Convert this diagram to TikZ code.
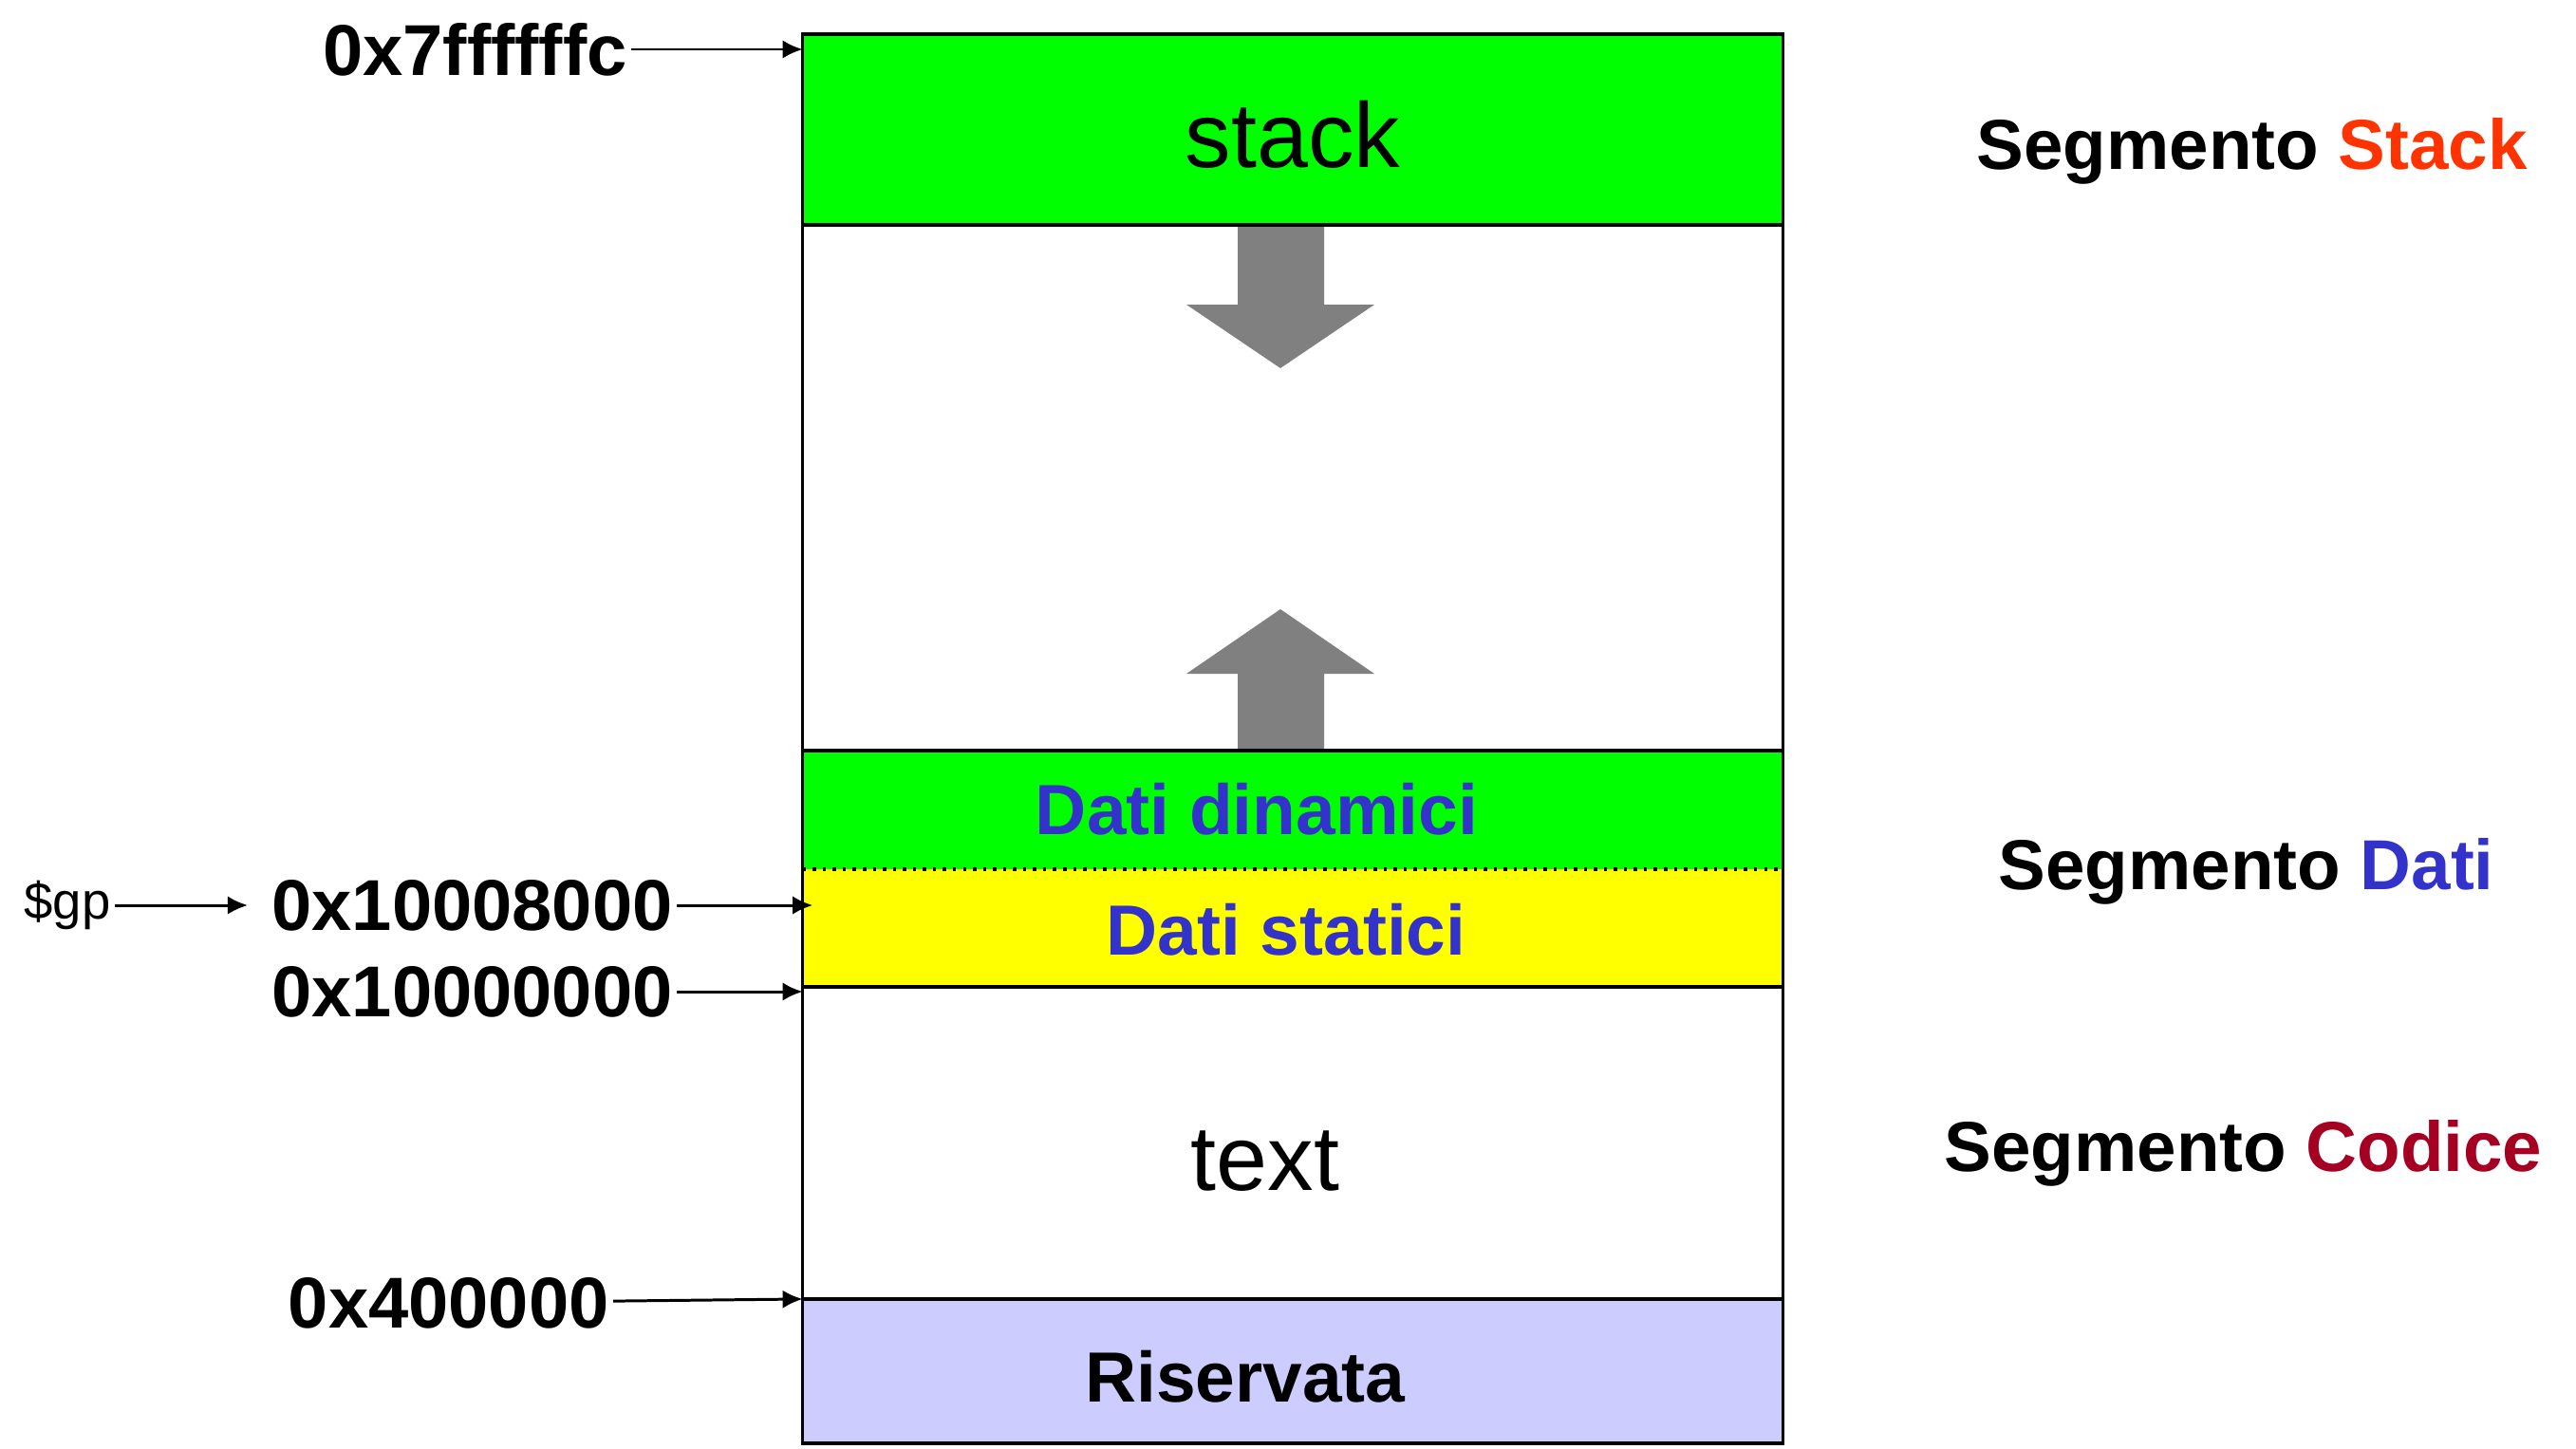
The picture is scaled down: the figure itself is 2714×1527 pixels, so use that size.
\documentclass[tikz,border=0pt]{standalone}
\usepackage{fontspec}
\setmainfont{Liberation Sans}
\usepackage{xcolor}
\usetikzlibrary{arrows.meta}
\definecolor{datiblue}{HTML}{3333CC}
\definecolor{stackred}{HTML}{FF3300}
\definecolor{codred}{HTML}{A50021}
\definecolor{riserv}{HTML}{CCCCFF}
\definecolor{statyellow}{HTML}{FFFF00}
\tikzset{>={Latex[length=6pt,width=5.5pt]}}
\tikzset{
  seg/.style={minimum width=10.32cm, inner sep=0pt, outer sep=0pt},
  addr/.style={font=\fontsize{21.6}{26}\selectfont\bfseries, inner sep=1pt, anchor=east},
  side/.style={font=\fontsize{21.2}{26}\selectfont\bfseries, inner sep=0pt, anchor=base west},
  big/.style={font=\fontsize{27.6}{33}\selectfont},
  inbox/.style={font=\fontsize{21.3}{26}\selectfont\bfseries},
  ptr/.style={->, line width=0.85pt}
}

\begin{document}
\begin{tikzpicture}[x=0.01cm,y=-0.01cm]
      \useasboundingbox (0,0) rectangle (2714,1527);
      \node[seg, fill=green, minimum height=2.01cm] (stk) at (1362,136.5) {};
      \node[seg, minimum height=5.54cm] (free) at (1362,514) {};
      \node[seg, fill=green, minimum height=1.25cm] (dyn) at (1362,853.5) {};
      \node[seg, fill=statyellow, minimum height=1.24cm] (sta) at (1362,978) {};
      \node[seg, minimum height=3.29cm] (txt) at (1362,1204.5) {};
      \node[seg, fill=riserv, minimum height=1.52cm] (ris) at (1362,1445) {};
      \fill[gray] (1304,237) -- (1395,237) -- (1395,321) -- (1448,321) -- (1349,388) -- (1250,321) -- (1304,321) -- cycle;
      \fill[gray] (1304,791) -- (1395,791) -- (1395,710) -- (1448,710) -- (1349,642) -- (1250,710) -- (1304,710) -- cycle;
      \draw[line width=1pt] (stk.north west) rectangle (ris.south east);
      \foreach \n in {stk,free,sta,txt}
        \draw[line width=1pt] (\n.south west) -- (\n.south east);
      \draw[line width=1pt, dotted] (dyn.south west) -- (dyn.south east);
      \node[big] (stacklbl) at (1362,142) {stack};
      \node[big] (textlbl) at (1333,1224) {text};
      \node[inbox, text=datiblue] (dynlbl) at (1324,853) {Dati dinamici};
      \node[inbox, text=datiblue] (stalbl) at (1355,980) {Dati statici};
      \node[inbox] (rislbl) at (1312,1451) {Riservata};
      \node[addr] (a7) at (665,52) {0x7ffffffc};
      \node[addr] (a1) at (713,954) {0x10008000};
      \node[addr] (a0) at (713,1045) {0x10000000};
      \node[addr] (a4) at (646,1373) {0x400000};
      \node[font=\fontsize{15.5}{18}\selectfont, inner sep=1pt] (gp) at (71,954) {\$gp};
      \draw[ptr] (a7) -- (a7 -| stk.west);
      \draw[ptr, shorten >=6pt] (gp) -- (a1);
      \draw[ptr] (a1) -- ([xshift=3pt]a1 -| sta.west);
      \draw[ptr] (a0) -- (a0 -| sta.west);
      \draw[ptr] (a4) -- (ris.north west);
      \node[side] (sstack) at (2082,178) {Segmento \textcolor{stackred}{Stack}};
      \node[side] (sdati) at (2105,937) {Segmento \textcolor{datiblue}{Dati}};
      \node[side] (scod) at (2048,1234) {Segmento \textcolor{codred}{Codice}};
    \end{tikzpicture}
\end{document}
